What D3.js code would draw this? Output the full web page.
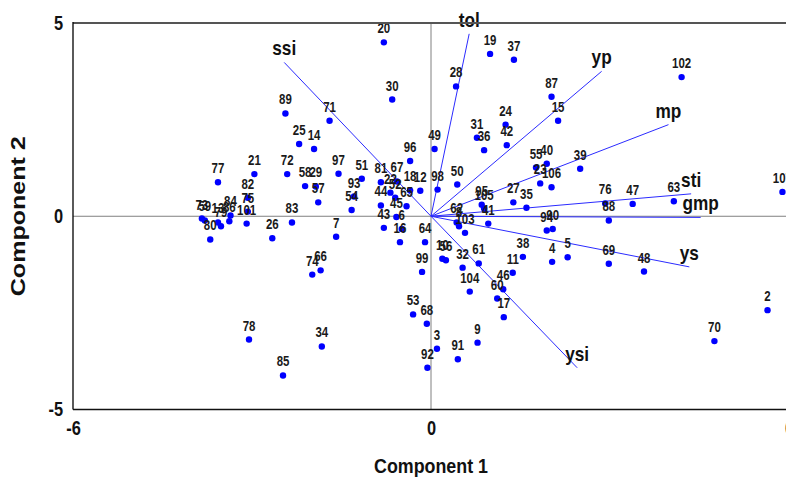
<!DOCTYPE html>
<html>
<head>
<meta charset="utf-8">
<script src="https://cdn.jsdelivr.net/npm/d3@7"></script>
<style>
  body { margin: 0; background: #fff; }
  svg { display: block; }
  text { font-family: "Liberation Sans", Arial, sans-serif; }
</style>
</head>
<body>
<script>
// point labels (genotype numbers) and their scores
var pointIds = ["20","30","89","71","25","14","77","21","72","58","29","57","82","73","59","79","13","86","84","75",
  "101","80","26","83","97","51","93","54","81","67","22","52","18","12","96","49","98","44","65","45",
  "43","6","16","7","64","99","10","56","50","95","105","27","35","62","8","41","103","94","90","23",
  "106","55","40","39","38","4","5","11","61","32","104","46","60","17","53","68","3","92","91","9",
  "19","37","28","87","15","24","42","31","36","102","76","47","63","88","69","48","2","70","107","74",
  "66","78","34","85"];
var pc1 = [-0.79,-0.65,-2.44,-1.70,-2.21,-1.96,-3.57,-2.96,-2.41,-2.11,-1.93,-1.89,-3.07,-3.84,-3.79,-3.52,-3.57,-3.38,-3.36,-3.07,
  -3.09,-3.70,-2.66,-2.33,-1.55,-1.16,-1.29,-1.33,-0.84,-0.57,-0.68,-0.60,-0.35,-0.18,-0.35,0.06,0.11,-0.84,-0.41,-0.58,
  -0.79,-0.49,-0.52,-1.59,-0.10,-0.15,0.19,0.25,0.44,0.85,0.89,1.38,1.60,0.43,0.47,0.96,0.57,1.94,2.04,1.83,
  2.02,1.76,1.94,2.50,1.54,2.03,2.29,1.37,0.80,0.53,0.65,1.21,1.11,1.22,-0.30,-0.07,0.10,-0.06,0.45,0.78,
  0.99,1.39,0.42,2.02,2.13,1.25,1.27,0.77,0.89,4.20,2.92,3.38,4.07,2.98,2.98,3.57,5.64,4.75,5.89,-1.99,
  -1.85,-3.05,-1.83,-2.48];
var pc2 = [4.50,3.02,2.66,2.47,1.87,1.74,0.88,1.09,1.09,0.78,0.77,0.36,0.48,-0.06,-0.11,-0.26,-0.16,-0.13,0.02,0.12,
  -0.19,-0.60,-0.57,-0.16,1.10,0.97,0.51,0.16,0.88,0.90,0.61,0.48,0.67,0.66,1.43,1.74,0.69,0.28,0.26,-0.02,
  -0.30,-0.33,-0.67,-0.53,-0.67,-1.44,-1.10,-1.14,0.82,0.30,0.20,0.36,0.22,-0.16,-0.26,-0.19,-0.43,-0.37,-0.33,0.85,
  0.75,1.26,1.36,1.23,-1.05,-1.18,-1.06,-1.46,-1.22,-1.33,-1.95,-1.89,-2.13,-2.61,-2.54,-2.78,-3.43,-3.92,-3.70,-3.27,
  4.20,4.05,3.36,3.09,2.47,2.37,1.84,2.03,1.71,3.60,0.33,0.32,0.39,-0.11,-1.23,-1.43,-2.43,-3.23,0.63,-1.51,
  -1.40,-3.19,-3.37,-4.12];

// trait vectors
var varNames = ["ssi","tol","yp","mp","sti","gmp","ys","ysi"];
var varPc1 = [-2.46, 0.64, 2.86, 3.98, 4.36, 4.52, 4.33, 2.45];
var varPc2 = [ 3.98, 4.72, 3.75, 2.37, 0.58, -0.03, -1.31, -3.92];

// axis ticks and titles
var xTicks = [-6, 0, 6];
var yTicks = [-5, 0, 5];
var xTitle = "Component 1";
var yTitle = "Component 2";

var width = 786, height = 478;
var plotL = 73, plotR = 789, plotT = 23, plotB = 409.5;
var squeeze = 0.82;

var x = d3.scaleLinear().domain([-6, 6]).range([plotL, plotR]);
var y = d3.scaleLinear().domain([-5, 5]).range([plotB, plotT]);

var svg = d3.select("body").append("svg")
    .attr("width", width)
    .attr("height", height);

svg.append("rect").attr("width", width).attr("height", height).attr("fill", "#fff");

// zero reference lines
svg.append("line")
    .attr("x1", plotL).attr("x2", width)
    .attr("y1", y(0)).attr("y2", y(0))
    .attr("stroke", "#808080").attr("stroke-width", 1);
svg.append("line")
    .attr("x1", x(0)).attr("x2", x(0))
    .attr("y1", plotT).attr("y2", plotB)
    .attr("stroke", "#808080").attr("stroke-width", 1);

// vectors
var vecs = varNames.map(function(n, i) { return {name: n, a: varPc1[i], b: varPc2[i]}; });
svg.selectAll(".vec").data(vecs).enter().append("line")
    .attr("class", "vec")
    .attr("x1", x(0)).attr("y1", y(0))
    .attr("x2", function(d) { return x(d.a); })
    .attr("y2", function(d) { return y(d.b); })
    .attr("stroke", "#2b2bff").attr("stroke-width", 1);

svg.selectAll(".vlab").data(vecs).enter().append("text")
    .attr("class", "vlab")
    .attr("transform", "scale(" + squeeze + ",1)")
    .attr("x", function(d) { return x(d.a) / squeeze; })
    .attr("y", function(d) { return y(d.b) - 7; })
    .attr("text-anchor", "middle")
    .attr("font-size", 21).attr("font-weight", "bold")
    .attr("fill", "#111")
    .text(function(d) { return d.name; });

// points
var pts = pointIds.map(function(id, i) { return {id: id, a: pc1[i], b: pc2[i]}; });
svg.selectAll(".pt").data(pts).enter().append("circle")
    .attr("class", "pt")
    .attr("cx", function(d) { return x(d.a); })
    .attr("cy", function(d) { return y(d.b); })
    .attr("r", 3.2)
    .attr("fill", "#0000ff");

svg.selectAll(".plab").data(pts).enter().append("text")
    .attr("class", "plab")
    .attr("transform", "scale(" + squeeze + ",1)")
    .attr("x", function(d) { return x(d.a) / squeeze; })
    .attr("y", function(d) { return y(d.b) - 9; })
    .attr("text-anchor", "middle")
    .attr("font-size", 14).attr("font-weight", "bold")
    .attr("fill", "#1a1a1a")
    .text(function(d) { return d.id; });

// axes
var gx = svg.append("g")
    .attr("transform", "translate(0," + plotB + ")")
    .call(d3.axisBottom(x).tickValues(xTicks).tickSize(0).tickPadding(11).tickFormat(d3.format("d")));
var gy = svg.append("g")
    .attr("transform", "translate(" + plotL + ",0)")
    .call(d3.axisLeft(y).tickValues(yTicks).tickSize(0).tickPadding(10).tickFormat(d3.format("d")));
[gx, gy].forEach(function(g) {
  g.select(".domain").remove();
  g.selectAll("text")
      .attr("font-family", "Liberation Sans, Arial, sans-serif")
      .attr("font-size", 20).attr("font-weight", "bold")
      .attr("fill", "#111")
      .text(function(d) { return d < 0 ? "-" + Math.abs(d) : d; });
});
gx.selectAll("text").attr("transform", "scale(" + squeeze + ",1)");
gy.selectAll("text").attr("transform", "scale(" + squeeze + ",1)").attr("x", -10 / squeeze);

// frame
svg.append("line").attr("x1", plotL).attr("x2", width).attr("y1", plotT).attr("y2", plotT)
    .attr("stroke", "#555").attr("stroke-width", 2);
svg.append("line").attr("x1", plotL).attr("x2", plotL).attr("y1", plotT - 1).attr("y2", plotB)
    .attr("stroke", "#000").attr("stroke-width", 1.3);
svg.append("line").attr("x1", plotL).attr("x2", width).attr("y1", plotB).attr("y2", plotB)
    .attr("stroke", "#111").attr("stroke-width", 1.3);

// axis titles
svg.append("text")
    .attr("x", x(0)).attr("y", 473)
    .attr("text-anchor", "middle")
    .attr("font-size", 21).attr("font-weight", "bold").attr("fill", "#111")
    .attr("textLength", 114).attr("lengthAdjust", "spacingAndGlyphs")
    .text(xTitle);
svg.append("text")
    .attr("transform", "translate(25," + y(0) + ") rotate(-90)")
    .attr("text-anchor", "middle")
    .attr("font-size", 21).attr("font-weight", "bold").attr("fill", "#111")
    .attr("textLength", 160).attr("lengthAdjust", "spacingAndGlyphs")
    .text(yTitle);
</script>
</body>
</html>
